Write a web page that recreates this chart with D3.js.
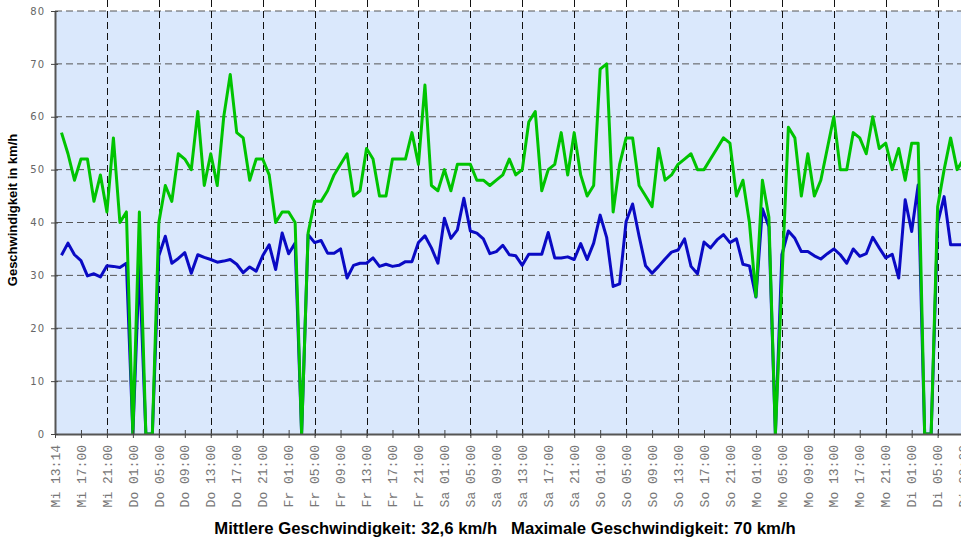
<!DOCTYPE html>
<html>
<head>
<meta charset="utf-8">
<title>Geschwindigkeit</title>
<script src="https://d3js.org/d3.v7.min.js"></script>
<style>
    body { margin: 0; background: #fff; }
    .y-axis text { font-family: "DejaVu Sans", sans-serif; font-size: 10px; fill: #666; letter-spacing: 1px; }
    .x-axis text { font-family: "Liberation Mono", monospace; font-size: 13px; fill: #777; }
    .title { font-family: "Liberation Sans", Arial, sans-serif; font-weight: bold; fill: #000; white-space: pre; }
</style>
</head>
<body>
<svg id="chart" width="961" height="539"></svg>
<script>
    // hourly samples, first one Wednesday 14:00
    const dayNames = ["So", "Mo", "Di", "Mi", "Do", "Fr", "Sa"];
    const firstSample = new Date(2010, 0, 6, 14, 0);
    const startLabel = "Mi 13:14";
    const yTicks = [0, 10, 20, 30, 40, 50, 60, 70, 80];

    // Mittlere Geschwindigkeit (blau)
    const avgSpeed = [
        33.8, 36.1, 33.9, 32.8, 29.9, 30.3, 29.7, 31.8, 31.7, 31.5,
        32.3, 0, 32, 0, 0, 33.7, 37.4, 32.3, 33.2, 34.3,
        30.4, 33.9, 33.4, 33, 32.5, 32.7, 33, 32.1, 30.5, 31.6,
        30.8, 33.7, 35.8, 31.1, 38, 34.1, 36.1, 0, 37.7, 36.2,
        36.6, 34.2, 34.2, 35, 29.5, 31.9, 32.3, 32.3, 33.3, 31.7,
        32.1, 31.7, 31.9, 32.6, 32.6, 36.2, 37.5, 35.2, 32.3, 40.8,
        37, 38.6, 44.6, 38.4, 38, 36.9, 34.1, 34.5, 35.7, 33.9,
        33.7, 31.9, 34, 34, 34, 38.1, 33.3, 33.3, 33.5, 33,
        36, 33, 36.1, 41.4, 37.2, 27.9, 28.4, 40.2, 43.5, 37.4,
        31.8, 30.4, 31.7, 33.1, 34.4, 34.8, 36.9, 31.7, 30.3, 36.3,
        35.2, 36.7, 37.7, 36.2, 36.9, 32.1, 31.8, 25.9, 42.6, 39.2,
        0, 33.9, 38.4, 37, 34.5, 34.5, 33.7, 33.1, 34.1, 35,
        33.9, 32.3, 35, 33.6, 34.1, 37.2, 35.2, 33.3, 34, 29.5,
        44.3, 38.3, 47.1, 0, 0, 39.9, 44.9, 35.8, 35.8, 35.8
    ];

    // Maximale Geschwindigkeit (gruen)
    const maxSpeed = [
        57, 53, 48, 52, 52, 44, 49, 42, 56, 40,
        42, 0, 42, 0, 0, 40, 47, 44, 53, 52,
        50, 61, 47, 53, 47, 60, 68, 57, 56, 48,
        52, 52, 49, 40, 42, 42, 40, 0, 38, 44,
        44, 46, 49, 51, 53, 45, 46, 54, 52, 45,
        45, 52, 52, 52, 57, 51, 66, 47, 46, 50,
        46, 51, 51, 51, 48, 48, 47, 48, 49, 52,
        49, 50, 59, 61, 46, 50, 51, 57, 49, 57,
        49, 45, 47, 69, 70, 42, 51, 56, 56, 47,
        45, 43, 54, 48, 49, 51, 52, 53, 50, 50,
        52, 54, 56, 55, 45, 48, 40, 26, 48, 41,
        0, 29, 58, 56, 45, 53, 45, 48, 54, 60,
        50, 50, 57, 56, 53, 60, 54, 55, 50, 54,
        48, 55, 55, 0, 0, 43, 50, 56, 50, 52
    ];

    const svg = d3.select("#chart");
    const plotLeft = 55, plotTop = 11, plotBottom = 434;
    const pxPerHour = 6.49;

    const domainStart = new Date(2010, 0, 6, 13, 0);
    const domainEnd = new Date(2010, 0, 12, 12, 0);
    const hours = (domainEnd - domainStart) / 3600000;

    const x = d3.scaleTime()
        .domain([domainStart, domainEnd])
        .range([plotLeft, plotLeft + hours * pxPerHour]);
    const y = d3.scaleLinear()
        .domain([0, 80])
        .range([plotBottom, plotTop]);

    const times = avgSpeed.map((d, i) => d3.timeHour.offset(firstSample, i));

    svg.append("rect")
        .attr("x", plotLeft)
        .attr("y", plotTop)
        .attr("width", x.range()[1] - plotLeft)
        .attr("height", plotBottom - plotTop)
        .attr("fill", "#dae8fc");

    svg.append("defs").append("clipPath")
        .attr("id", "plot-clip")
        .append("rect")
        .attr("x", plotLeft)
        .attr("y", plotTop - 5)
        .attr("width", x.range()[1] - plotLeft)
        .attr("height", plotBottom - plotTop + 5);

    // horizontal grid
    svg.selectAll(".hgrid")
        .data(yTicks.filter(d => d > 0))
        .enter()
        .append("line")
        .attr("class", "hgrid")
        .attr("x1", plotLeft)
        .attr("x2", x.range()[1])
        .attr("y1", d => y(d))
        .attr("y2", d => y(d))
        .attr("stroke", "#555")
        .attr("stroke-dasharray", "7,4");

    // vertical grid every 8 hours (05, 13, 21)
    const afterStart = d3.timeHour.range(d3.timeHour.offset(domainStart, 1), domainEnd);
    const gridDates = afterStart.filter(d => d.getHours() % 8 === 5);
    svg.selectAll(".vgrid")
        .data(gridDates)
        .enter()
        .append("line")
        .attr("class", "vgrid")
        .attr("x1", d => Math.round(x(d)) + 0.5)
        .attr("x2", d => Math.round(x(d)) + 0.5)
        .attr("y1", 0)
        .attr("y2", plotBottom + 5)
        .attr("stroke", "#111")
        .attr("stroke-dasharray", "7,4");

    const line = d3.line()
        .x((d, i) => x(times[i]))
        .y(d => y(d));

    const plot = svg.append("g").attr("clip-path", "url(#plot-clip)");
    plot.append("path")
        .datum(avgSpeed)
        .attr("d", line)
        .attr("fill", "none")
        .attr("stroke", "#0a0ac4")
        .attr("stroke-width", 3)
        .attr("stroke-linejoin", "round");
    plot.append("path")
        .datum(maxSpeed)
        .attr("d", line)
        .attr("fill", "none")
        .attr("stroke", "#00c400")
        .attr("stroke-width", 3)
        .attr("stroke-linejoin", "round");

    // axes: first tick is the real start time, then every 4 hours
    const tickDates = [domainStart].concat(afterStart.filter(d => d.getHours() % 4 === 1));
    const fmtTime = d3.timeFormat("%H:%M");
    const xAxis = d3.axisBottom(x)
        .tickValues(tickDates)
        .tickFormat(d => d === domainStart ? startLabel : dayNames[d.getDay()] + " " + fmtTime(d))
        .tickSizeInner(4)
        .tickSizeOuter(0);

    const gx = svg.append("g")
        .attr("class", "x-axis")
        .attr("transform", `translate(0,${plotBottom})`)
        .call(xAxis);
    gx.select(".domain").attr("stroke", "#555").attr("stroke-width", 2);
    gx.selectAll(".tick line").attr("y1", -4).attr("stroke", "#444");
    gx.selectAll(".tick text")
        .attr("transform", "rotate(-90)")
        .attr("text-anchor", "end")
        .attr("x", -11)
        .attr("y", 0)
        .attr("dy", "0.32em");

    const yAxis = d3.axisLeft(y)
        .tickValues(yTicks)
        .tickSizeInner(4)
        .tickSizeOuter(0)
        .tickPadding(6);
    const gy = svg.append("g")
        .attr("class", "y-axis")
        .attr("transform", `translate(${plotLeft},0)`)
        .call(yAxis);
    gy.select(".domain").attr("stroke", "#555").attr("stroke-width", 2);
    gy.selectAll(".tick line").attr("x1", 3).attr("stroke", "#444");

    svg.append("text")
        .attr("class", "title")
        .attr("transform", "translate(17,210) rotate(-90)")
        .attr("text-anchor", "middle")
        .attr("font-size", 13)
        .text("Geschwindigkeit in km/h");

    svg.append("text")
        .attr("class", "title")
        .attr("x", 505)
        .attr("y", 534)
        .attr("text-anchor", "middle")
        .attr("font-size", 16.7)
        .text("Mittlere Geschwindigkeit: 32,6 km/h   Maximale Geschwindigkeit: 70 km/h");
</script>
</body>
</html>
